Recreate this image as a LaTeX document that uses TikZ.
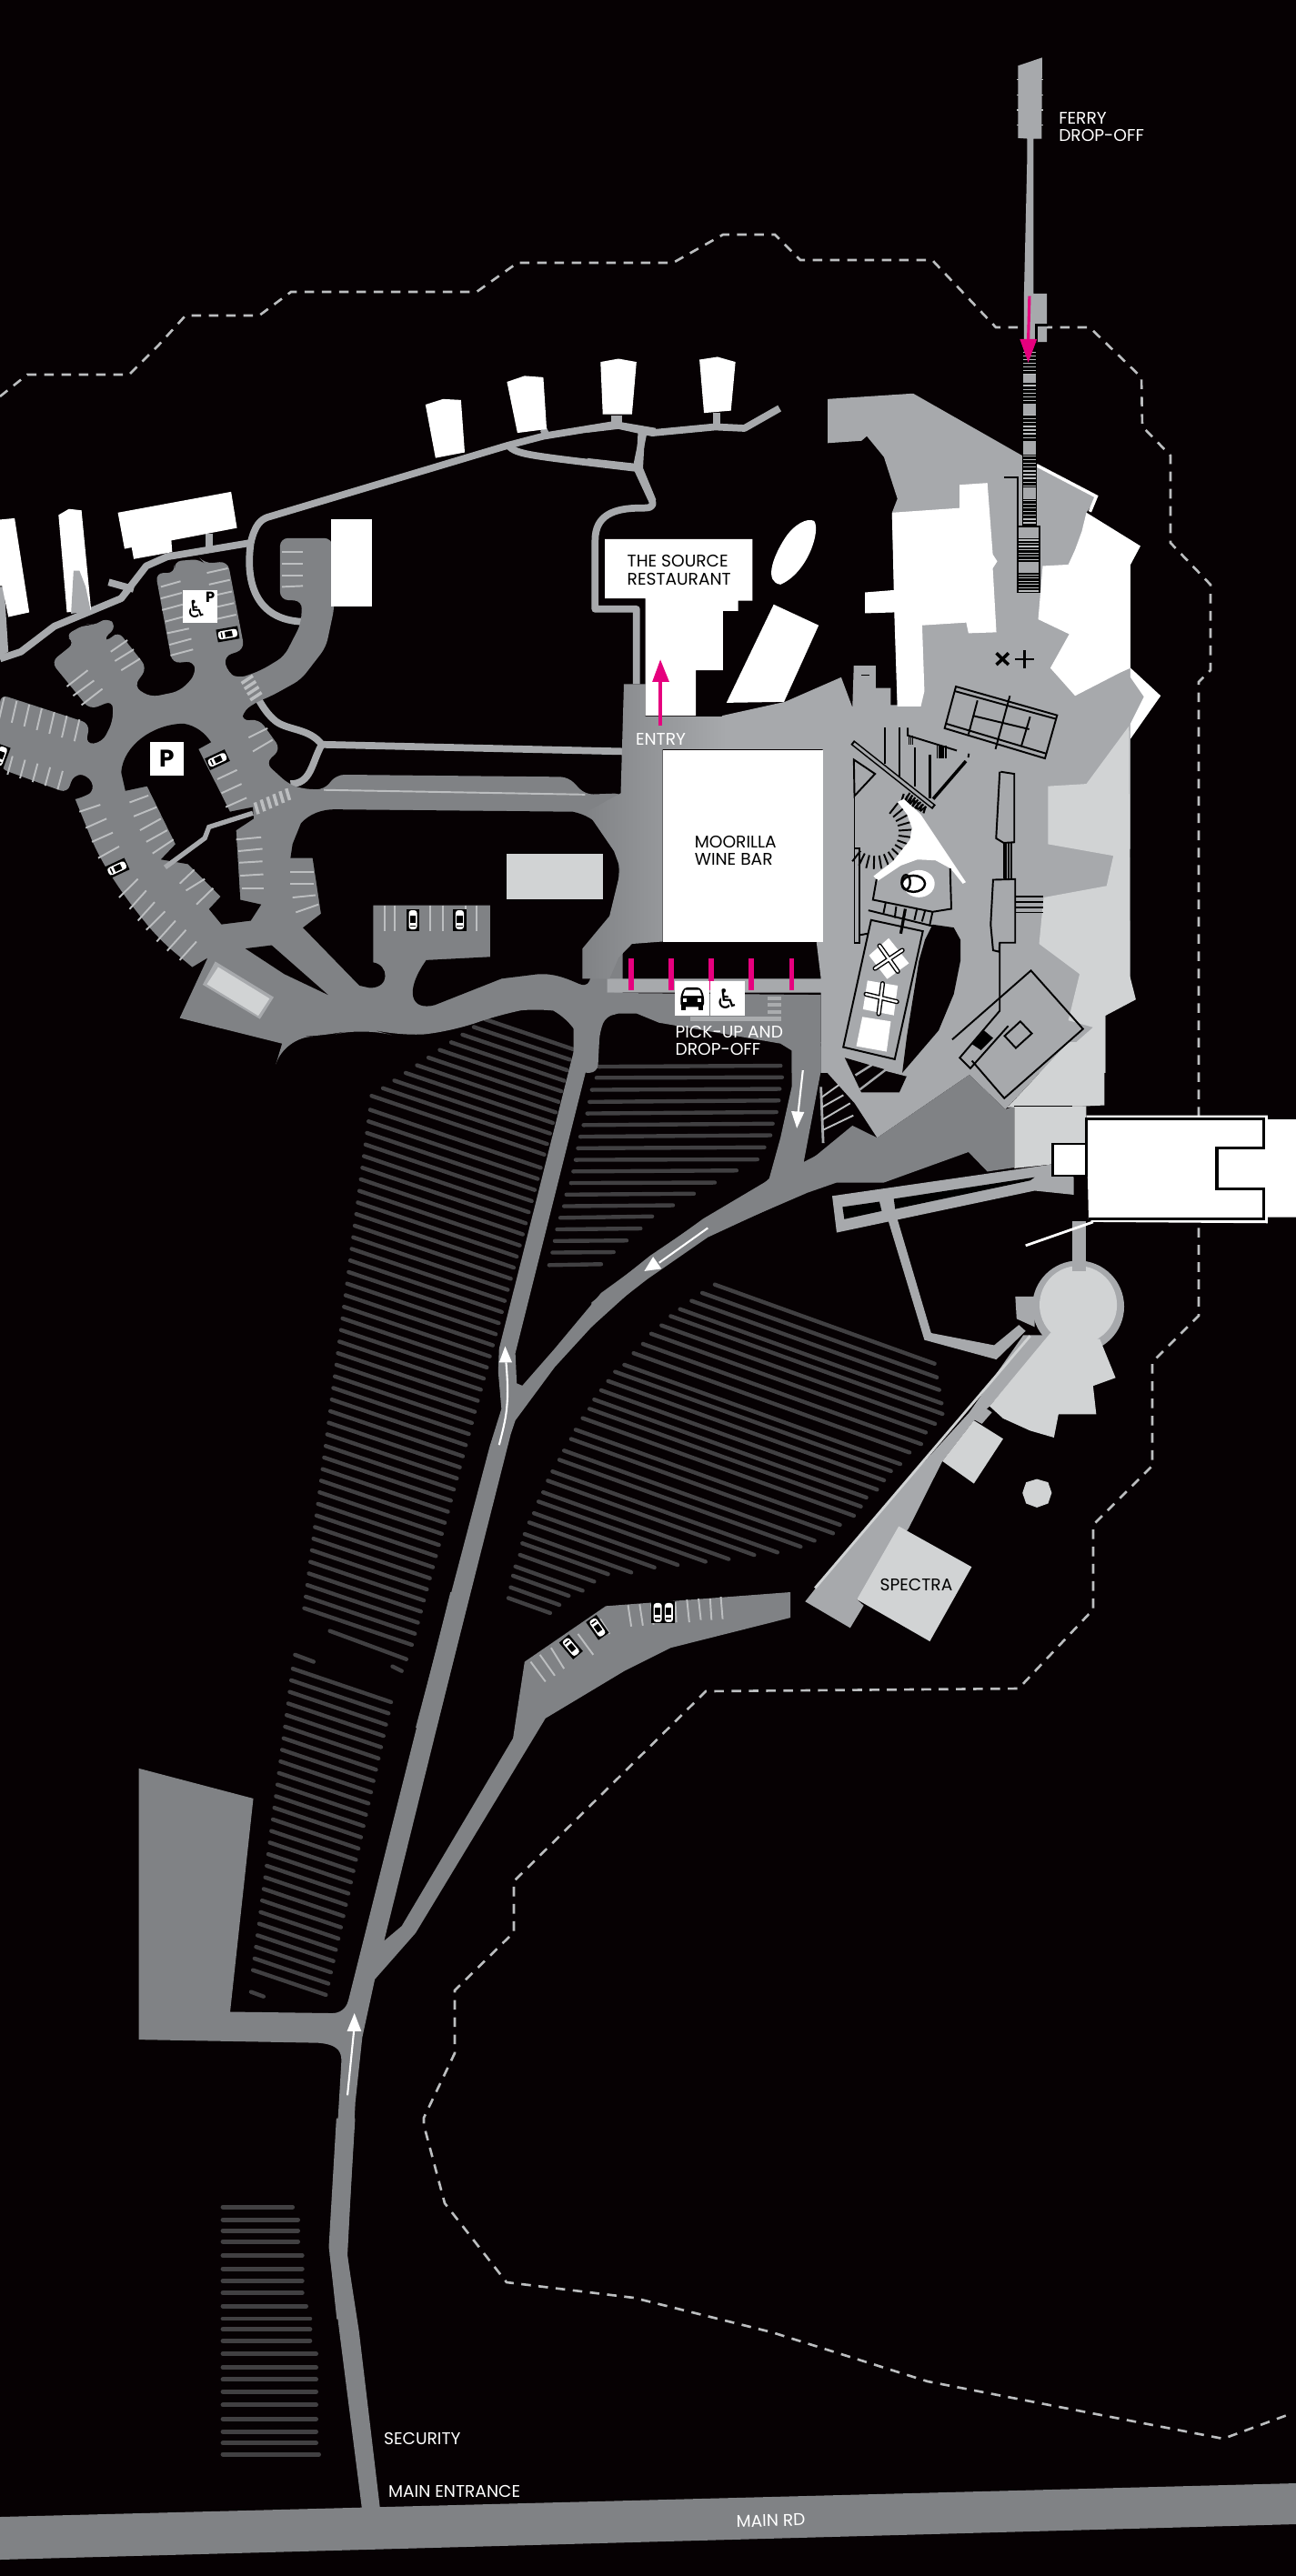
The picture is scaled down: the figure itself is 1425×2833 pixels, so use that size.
\documentclass[tikz,border=0pt]{standalone}
\usepackage{fontspec}
\setmainfont{Poppins}
\newfontfamily\symf{DejaVu Sans}
\definecolor{bgk}{HTML}{060103}
\definecolor{road}{HTML}{808285}
\definecolor{site}{HTML}{A7A9AC}
\definecolor{pale}{HTML}{D1D3D4}
\definecolor{vine}{HTML}{414042}
\definecolor{mag}{HTML}{E6007E}
\definecolor{dsh}{HTML}{BCBEC0}
\tikzset{
 zone1/.style={x=0.004591cm,y=-0.005102cm,shift={(0cm,-3.8cm)}},
 zone2/.style={x=0.004943cm,y=-0.005102cm,shift={(6.5cm,-3.8cm)}},
 zone3/.style={x=0.004943cm,y=-0.004464cm,shift={(6.5cm,-11.5cm)}},
 zone4/.style={x=0.003333cm,y=-0.003333cm,shift={(9.5cm,-0.4cm)}},
 zone5/.style={x=0.005102cm,y=-0.005102cm,shift={(1cm,-11cm)}},
 zone6/.style={x=0.005102cm,y=-0.005102cm,shift={(1cm,-17.5cm)}},
 zone7/.style={x=0.003333cm,y=-0.003333cm,shift={(2cm,-23.3cm)}},
 zone8/.style={x=0.003333cm,y=-0.003333cm,shift={(9.25cm,-8cm)}},
 vineline/.style={vine,line width=1.25pt,line cap=round},
 pathline/.style={site,line width=2.2pt,line join=round},
 stripe/.style={dsh,line width=0.55pt},
 ink/.style={black,line width=0.55pt},
 lbl/.style={inner sep=0pt,anchor=west,font=\fontsize{5.3}{6}\selectfont},
 wlbl/.style={lbl,text=white},
 klbl/.style={lbl,text=black},
 post/.style={mag,line width=1.5pt},
 warrow/.style={white,line width=0.6pt},
}
\newcommand{\carat}[3]{\begin{scope}[shift={(#1,#2)},rotate=#3]
 \fill[black] (-0.12cm,-0.07cm) rectangle (0.12cm,0.07cm);
 \fill[white,rounded corners=0.03cm] (-0.105cm,-0.045cm) rectangle (0.105cm,0.045cm);
 \fill[black] (-0.03cm,-0.03cm) rectangle (0.05cm,0.03cm);
 \fill[black] (-0.075cm,-0.03cm) rectangle (-0.06cm,0.03cm);
\end{scope}}
\begin{document}
\begin{tikzpicture}[x=0.01cm,y=-0.01cm]
\useasboundingbox (0,0) rectangle (1425,2833);
\fill[bgk] (0,0) rectangle (1425,2833);
% dashed boundary
\draw[dsh,line width=0.75pt,dash pattern=on 3pt off 2.4pt]
 (0,436)--(30,412)--(142,412)--(174,380)--(204,347)--(285,347)--(320,321)--(524,321)--(569,289)--(740,289)--(795,258)--(852,258)--(880,286)--(1025,286)--(1095,360)--(1198,360)--(1255,415)--(1256,469)--(1287,501)--(1287,597)--(1331,643)--(1331,737)--(1318,750)--(1318,1447)--(1267,1498)--(1267,1612)--(1202,1677)--(1202,1770)--(1120,1857)--(776,1860)--(565,2069)--(565,2125)--(500,2189)--(500,2258)--(466,2329)--(466,2337)--(489,2423)--(557,2510)--(697,2527)--(849,2565)--(1020,2619)--(1345,2682)--(1418,2655);
% vines
\begin{scope}[zone5]
 \foreach \i in {0,...,10}{
  \pgfmathsetmacro\xl{850-24.5*\i}\pgfmathsetmacro\yl{40+16.5*\i}
  \pgfmathsetmacro\xr{(1067-.27*\yl+.0918*\xl)/1.0918}\pgfmathsetmacro\yr{\yl+.34*(\xr-\xl)}
  \draw[vineline] (\xl,\yl)--(\xr,\yr);}
 \foreach \i in {1,...,44}{
  \pgfmathsetmacro\xl{605-3.3*\i}\pgfmathsetmacro\yl{210+25*\i}
  \pgfmathsetmacro\xr{(1067-.27*\yl+.0918*\xl)/1.0918}\pgfmathsetmacro\yr{\yl+.34*(\xr-\xl)}
  \draw[vineline] (\xl,\yl)--(\xr,\yr);}
 \draw[vineline] (515,1359)--(680,1420);
 \foreach \a/\b/\c/\d in {1095/142/1487/140,1090/166/1490/165,1080/192/1485/190,1075/218/1483/215,1070/243/1478/240,1062/268/1470/265,1055/293/1465/290,1050/318/1452/316,1045/343/1437/342,1040/368/1392/366,1035/393/1345/392,1025/418/1300/416,1020/443/1255/441,1012/468/1210/465,1005/493/1185/491,1000/518/1155/517,995/543/1127/542,988/570/1100/568}
  \draw[vineline] (\a,\b)--(\c,\d);
 \foreach \xl/\yl/\xr in {1345/612/1819,1318/630/1824,1295/647/1829,1270/665/1834,1250/680/1836,1230/700/1820,1208/718/1800,1190/740/1790,1170/760/1765,1150/785/1745,1130/800/1725,1115/820/1710,1100/840/1695,1085/860/1672,1075/880/1660,1060/900/1645,1045/925/1615,1035/945/1600,1020/970/1560,1010/990/1530,995/1015/1480,985/1035/1430,975/1060/1375,965/1080/1325,955/1105/1265,945/1125/1215,935/1150/1165,930/1170/1115,925/1195/1085,915/1220/1060,910/1240/1030,905/1265/1010,900/1288/990}
  \draw[vineline] (\xl,\yl)--(\xr,{\yl+0.36*(\xr-\xl)});
\end{scope}
\begin{scope}[zone6]
 \draw[vineline] (440,135)--(480,150); \draw[vineline] (650,160)--(670,170);
 \foreach \k in {0,...,26}{
  \pgfmathsetmacro\xl{435-3.3*\k}\pgfmathsetmacro\yl{165+25*\k}
  \pgfmathsetmacro\xr{647-5.4*\k}\pgfmathsetmacro\yr{\yl+.34*(\xr-\xl)}
  \draw[vineline] (\xl,\yl)--(\xr,\yr);}
 \draw[vineline] (345,862)--(372,872);
\end{scope}
\begin{scope}[zone7]
 \foreach \y/\r in {288/365,330/383,366/383,402/383,448/397,492/397,532/397,572/397,615/410,657/423,692/423,730/423,773/443,818/443,858/443,898/443,942/443,988/443,1030/443,1068/443,1105/452}
  \draw[vine,line width=1.4pt,line cap=round] (135,\y)--(\r,\y);
\end{scope}
% ferry
\begin{scope}[zone4]
 \fill[site] (507,97)--(587,70)--(585,338)--(558,338)--(558,850)--(603,850)--(603,1010)--(527,1010)--(527,850)--(537,420)--(537,338)--(507,336)--cycle;
 \foreach \y in {143,193,243,293}{\draw[dsh,line width=0.4pt] (503,\y)--(510,\y);\draw[dsh,line width=0.4pt] (583,\y)--(591,\y);}
 \draw[black,line width=0.8pt] (567,1010)--(567,955)--(604,955);
\end{scope}
% thin paths
\begin{scope}[zone1]
 \draw[pathline] (0,675)--(50,660)--(130,605)--(210,575)--(290,545)--(350,475)--(400,455)--(600,425);
 \draw[pathline] (600,425) .. controls (610,385) and (625,375) .. (640,370)--(1215,215)--(1300,195)--(1470,170)--(1568,185);
 \draw[pathline] (600,425) .. controls (585,520) and (620,590) .. (720,595);
 \draw[pathline] (1215,215) .. controls (1240,235) and (1250,235) .. (1530,265);
 \draw[pathline] (1535,185)--(1530,265)--(1562,335);
 \draw[pathline] (260,510)--(320,525);
 \draw[pathline] (500,405)--(500,435);
 \draw[pathline] (1470,150)--(1470,172);
 \draw[pathline] (1300,180)--(1310,197);
 \fill[site] (0,520)--(10,520)--(20,660)--(0,670)--cycle;
 \draw[pathline] (770,860)--(1490,875);
 \draw[pathline] (770,860) .. controls (745,900) and (745,945) .. (695,945);
 \draw[pathline] (770,860) .. controls (740,825) and (690,830) .. (660,810) .. controls (640,795) and (630,780) .. (620,765);
\end{scope}
\begin{scope}[zone2]
 \draw[pathline] (-10,180)--(60,172)--(135,188)--(275,175)--(340,178)--(418,135);
 \draw[pathline] (-10,250)--(100,262);
 \draw[pathline] (115,190)--(100,262)--(135,335) .. controls (140,350) and (125,350) .. (110,350) .. controls (50,350) and (8,365) .. (8,420)--(8,568)--(100,568)--(100,730);
 \draw[pathline] (60,150)--(60,175);
 \draw[pathline] (278,145)--(278,177);
 \fill[white] (20,35)--(60,28)--(100,35)--(90,148)--(25,148)--cycle;
 \fill[white] (240,30)--(280,24)--(320,35)--(310,140)--(250,145)--cycle;
\end{scope}
% car park and road blob
\begin{scope}[zone1]
 \fill[road,rounded corners=2.5pt] (0,752)--(215,815)--(205,860)--(245,855)--(270,810)--(270,765)--(215,785)--(122,682)--(180,640)--(155,625)--(205,600)--(225,605)--(255,585)--(280,605)--(245,635)--(255,640)--(282,615)--(352,695)--(320,735)--(360,758)--(430,745)--(468,710)--(465,680)--(412,685)--(372,490)--(420,490)--(415,465)--(480,460)--(490,470)--(545,465)--(585,655)--(535,670)--(545,705)--(570,718)--(625,700)--(680,670)--(720,600)--(723,550)--(670,548)--(670,415)--(795,415)--(800,565)--(780,650)--(720,720)--(650,755)--(610,770)--(580,790)--(578,810)--(620,805)--(672,870)--(635,900)--(690,945)--(720,955)--(775,958)--(805,925)--(1360,930)--(1400,968)--(1490,965)--(1490,1440)--(1450,1445)--(1435,1480)--(1430,1568)--(1385,1568) [rounded corners=9pt]--(1385,1490)--(1365,1440)--(1300,1425)--(1200,1440)--(1080,1480)--(950,1490)--(870,1470)--(780,1490)--(680,1490)[rounded corners=0pt]--(675,1505)--(430,1450)--(497,1320)--(460,1340)[rounded corners=6pt]--(380,1280)--(300,1190)--(235,1100)[rounded corners=0pt]--(180,978)[rounded corners=2.5pt]--(205,972)--(228,958)--(210,925)--(175,925)--(162,965)--(0,912)--cycle;
 % islands
 \fill[bgk] (700,1075)--(720,1030) .. controls (740,1010) and (770,1000) .. (800,1000)--(1370,1005) .. controls (1400,1010) and (1425,1025) .. (1440,1040) .. controls (1470,1070) and (1485,1100) .. (1480,1150)--(1460,1250)--(1410,1370) .. controls (1405,1380) and (1395,1380) .. (1385,1376) .. controls (1350,1362) and (1320,1352) .. (1280,1356)--(1200,1365)--(1040,1422) .. controls (985,1435) and (965,1395) .. (1020,1325)--(1173,1318)--(1173,1207)--(893,1207)--(893,1330) .. controls (930,1335) and (935,1385) .. (885,1385)--(860,1380)--(725,1255)--(768,1225)--(748,1105)--(695,1105)--cycle;
 \fill[pale] (1212,1095) rectangle (1442,1193);
 \fill[bgk] (290,920) .. controls (295,860) and (370,815) .. (440,815) .. controls (470,820) and (490,835) .. (505,855)--(475,870)--(550,1005)--(605,995)--(607,1020)--(565,1045)--(575,1195)--(625,1205)--(600,1240)--(530,1248)--(500,1215)--(528,1188)--(450,1118)--(385,1108)--(420,1075)--(352,950)--(300,960)--cycle;
 \fill[bgk] (587,1300)--(650,1293)--(785,1400)--(680,1355)--cycle;
 \fill[site] (515,1328)--(655,1405)--(622,1452)--(485,1378)--cycle;
 \fill[pale] (522,1340)--(645,1408)--(618,1445)--(495,1377)--cycle;
 \draw[site,line width=1.5pt] (605,1008)--(500,1038)--(490,1062)--(395,1125);
 \draw[stripe] (775,958)--(1400,968);
 \foreach \a/\b/\c/\d in {385/520/432/508,385/545/435/533,388/570/437/558,395/595/445/583,400/620/452/610,405/645/458/632,408/668/462/655,495/490/545/480,500/515/550/505,505/540/555/530,510/565/560/555,515/590/565/580,265/660/305/635,275/680/320/655,290/700/335/675,160/735/210/700,175/755/225/722,195/775/245/740,190/1005/240/990,205/1040/255/1020,220/1070/270/1050,235/1105/285/1080,285/1190/330/1150,310/1215/350/1175,330/1240/370/1200,350/1260/395/1220,375/1285/420/1240,400/1305/445/1260,430/1325/470/1285,310/985/355/970,320/1015/375/995,335/1045/385/1020,350/1070/400/1045,365/1095/415/1065,520/935/567/915,530/965/578/945,540/995/590/975,595/845/640/825,605/875/652/850,565/1065/625/1060,570/1090/628/1085,572/1115/628/1112,575/1143/630/1140,578/1170/630/1170,695/1135/750/1135,695/1160/750/1160,700/1190/755/1185,708/1222/762/1205,430/1160/465/1130,445/1175/490/1150,470/1205/510/1170,675/445/725/445,675/470/725/470,675/495/725/495,675/520/725/518}
  \draw[stripe] (\a,\b)--(\c,\d);
 \foreach \i in {0,...,6}{\draw[stripe] ({10+30*\i},{758+8*\i})--({-2+30*\i},{805+8*\i});}
 \foreach \i in {0,...,4}{\draw[stripe] ({30+30*\i},{885+8*\i})--({18+30*\i},{925+8*\i});}
 \foreach \i in {0,...,3}{\draw[stripe,line width=1pt] ({578+7*\i},{728+12*\i})--({605+7*\i},{712+12*\i});}
 \foreach \i in {0,...,5}{\draw[stripe,line width=1pt] ({610+15*\i},{985-6*\i})--({618+15*\i},{1010-6*\i});}
 \foreach \x in {920,945,1030,1060,1115,1140}{\draw[stripe] (\x,1207)--(\x,1262);}
 \carat{545}{622}{10}\carat{520}{893}{25}\carat{280}{1127}{25}\carat{2}{885}{70}\carat{988}{1238}{90}\carat{1100}{1238}{90}
 % white buildings of the west side
 \fill[white] (0,375)--(35,372)--(70,575)--(20,585)--(5,518)--(0,518)--cycle;
 \fill[white] (140,365)--(165,352)--(195,355)--(218,570)--(160,575)--cycle;
 \fill[site] (176,485)--(190,485)--(205,520)--(217,572)--(170,578)--cycle;
 \fill[white] (282,360)--(553,315)--(567,393)--(410,420)--(412,445)--(320,460)--(315,435)--(298,438)--cycle;
 \fill[white] (1018,127)--(1060,115)--(1103,117)--(1112,230)--(1042,242)--cycle;
 \fill[white] (1213,78)--(1255,65)--(1300,68)--(1308,180)--(1238,188)--cycle;
 \fill[white] (793,375) rectangle (890,563);
\end{scope}
% lower roads
\begin{scope}[zone5]
 \fill[road] (1048,60)--(1048,80)--(880,750)--(878,800)--(885,880)--(860,960)--(700,1568)--(745,1568)--(905,935)--(915,905)--(1000,790)--(1110,670)--(1200,600)--(1330,510)--(1600,385)--(1600,315)--(1455,390)--(1320,470)--(1100,630)--(1000,750)--(930,830)--(918,825)--(915,760)--(1090,60)--cycle;
\end{scope}
\begin{scope}[zone6]
 \fill[road] (775,0)--(555,880) .. controls (550,900) and (535,908) .. (520,908)--(300,905)--(350,445)--(103,380)--(103,965)--(490,972) .. controls (525,975) and (540,985) .. (540,1010)--(515,1430)--(530,1568)--(570,1568)--(553,1430)--(570,1100)--(585,960)--(612,835)--(700,735)--(980,272)--(1150,170)--(1250,120)--(1508,55)--(1508,0)--(1110,30)--(935,150)--(910,315)--(670,720)--(632,752)--(818,0)--cycle;
 \foreach \a/\b/\c/\d in {1158/28/1165/74,1183/26/1190/72,1208/26/1213/70,1260/22/1262/65,1285/16/1290/65,1310/14/1315/60,1335/14/1338/60,1358/10/1362/58,1098/58/1118/90,1050/90/1083/135,992/120/1020/165,968/135/1000/180,948/150/980/193}
  \draw[stripe] (\a,\b)--(\c,\d);
 \carat{1222}{44}{90}\carat{1246}{44}{90}\carat{1092}{76}{-55}\carat{1035}{118}{-50}
\end{scope}
\begin{scope}[zone7]
 \fill[road] (510,-5)--(572,-5)--(545,440)--(585,700)--(655,1290)--(595,1290)--(520,700)--(485,420)--cycle;
\end{scope}
\fill[road] (0,2768)--(1425,2731)--(1425,2776)--(0,2815)--cycle;
% site
\begin{scope}[zone2]
 \fill[site] (525,115)--(715,103)--(990,255)--(1125,325)--(1100,360)--(1220,432)--(1198,472)--(1198,695)--(1265,755)--(1198,845)--(1197,1400)--(1142,1445)--(1142,1568)--(510,1568)--(510,1395)--(35,1395)--(35,1365)--(510,1365)--(500,1285)--(514,1285)--(514,870)--(290,870)--(290,798)--(430,768)--(555,715)--(580,780)--(583,690)--(632,690)--(632,738)--(665,738)--(665,775)--(680,775)--(668,360)--(680,330)--(650,240)--(612,195)--(600,205)--(525,210)--cycle;
 \shade[left color=road,right color=site] (72,730)--(120,730)--(120,800)--(300,800)--(300,870)--(158,870)--(158,1285)--(90,1290)--(60,1320)--(40,1365)--(-20,1365)--(-20,1300)--(40,1230)--(65,1130)--(50,1090)--(-10,1005)--(65,965)--cycle;
 \fill[road] (-40,1395)--(510,1400)--(510,1568)--(445,1568)--(445,1520)--(420,1505)--(150,1460)--(100,1440)--(40,1440)--(20,1460)--(0,1560)--(-40,1568)--cycle;
 \fill[pale] (1195,820)--(1100,945)--(1015,950)--(1015,1075)--(1160,1100)--(1145,1165)--(1005,1190)--(995,1290)--(1085,1355)--(1060,1455)--(1115,1470)--(1000,1568)--(1142,1568)--(1142,1445)--(1210,1410)--(1197,1360)--cycle;
 % white buildings
 \fill[white] (30,417)--(358,417)--(358,550)--(326,550)--(326,572)--(292,572)--(292,700)--(232,700)--(232,798)--(120,798)--(120,545)--(30,545)--cycle;
 \fill[white] (495,378) .. controls (510,400) and (480,490) .. (420,515) .. controls (385,510) and (400,460) .. (430,415) .. controls (450,385) and (480,370) .. (495,378)--cycle;
 \fill[white] (405,558)--(505,603)--(428,768)--(300,770)--cycle;
 \fill[white] (668,360)--(818,350)--(818,300)--(880,296)--(892,450)--(902,465)--(892,480)--(900,618)--(838,620)--(833,597)--(735,603)--(740,745)--(732,778)--(680,778)--(673,575)--(608,577)--(608,532)--(672,527)--cycle;
 \fill[white] (1100,360)--(1220,432)--(1198,472)--(1198,695)--(1175,705)--(1075,755)--(1020,695)--(1062,622)--(993,590)--(1003,475)--(1060,472)--(1075,440)--(1090,400)--cycle;
 \draw[white,line width=1pt] (990,258)--(1122,325)--(1108,358);
 \fill[white] (1198,695)--(1265,755)--(1198,848)--(1198,815)--(1228,757)--(1198,715)--cycle;
 \fill[white] (158,872) rectangle (514,1286);
 % ladder
 \fill[black] (958,10) rectangle (990,390);
 \foreach \y in {14,22,...,385}{\draw[dsh,line width=0.35pt] (960,\y)--(988,\y);}
 \foreach \y/\z in {62/80,125/148,205/235,305/330}{\fill[site] (960,\y) rectangle (988,\z);}
 \fill[black] (946,388) rectangle (998,533);
 \fill[site] (950,392) rectangle (994,415);
 \fill[site] (950,467) rectangle (994,490);
 \foreach \y in {419,426,...,463,494,501,...,530}{\draw[dsh,line width=0.35pt] (950,\y)--(994,\y);}
 \draw[ink] (918,283)--(948,283)--(948,390);
 \draw[ink,line width=0.3pt] (600,710)--(618,710);
 % tennis court
 \draw[ink] (810,735)--(1035,797)--(1008,890)--(785,825)--cycle;
 \draw[ink] (808,745)--(1033,805);\draw[ink] (788,815)--(1012,880);
 \draw[ink] (858,765)--(838,838);\draw[ink] (975,800)--(955,865);
 \draw[ink] (848,798)--(973,827);\draw[ink] (930,755)--(898,870);
 % x +
 \draw[black,line width=1pt] (900,663)--(927,688);\draw[black,line width=1pt] (927,663)--(900,688);
 \draw[black,line width=0.8pt] (942,676)--(983,676);\draw[black,line width=0.8pt] (963,657)--(963,695);
 % posts
 \foreach \x in {88,177,266,355,445}{\draw[post] (\x,1322)--(\x,1390);}
 \fill[dsh!70!road] (220,1447) rectangle (422,1457);
 \foreach \y in {1403,1418,1433}{\fill[dsh!70!road] (392,\y) rectangle (422,\y+8);}
 \fill[white] (186,1370) rectangle (262,1445);
 \fill[white] (265,1370) rectangle (340,1445);
 % taxi icon
 \fill[black,rounded corners=1pt] (198,1402)--(206,1384)--(242,1384)--(250,1402)--(250,1426)--(198,1426)--cycle;
 \fill[white] (208,1389)--(240,1389)--(245,1402)--(203,1402)--cycle;
 \fill[white] (204,1408) rectangle (212,1415);
 \fill[white] (236,1408) rectangle (244,1415);
 \fill[black] (200,1424) rectangle (210,1433);
 \fill[black] (238,1424) rectangle (248,1433);
 % entry arrow
 \fill[mag] (135,725)--(153,677)--(173,725)--cycle;
 \draw[post,line width=0.9pt] (153,820)--(153,720);
\end{scope}
% east and south parts
\begin{scope}[zone3]
 \fill[site] (510,-10)--(1060,-10)--(920,155)--(840,70)--(635,225)--(585,140)--(520,60)--cycle;
 \fill[road] (445,0)--(510,0)--(510,60)--(470,295)--(580,195)--(635,225)--(840,70)--(920,155)--(940,147)--(940,298)--(880,308)--(838,260)--(650,335)--(545,335)--(480,360)--(260,465)--(130,560)--(0,690)--(0,630)--(130,515)--(250,425)--(360,360)--(395,325)--(420,225)--(445,100)--cycle;
 \fill[pale] (1060,-10)--(925,150)--(1100,147)--(1140,145)--(1140,-10)--cycle;
 \fill[pale] (940,147)--(1100,147)--(1100,240)--(1025,240)--(1025,290)--(940,300)--cycle;
 \draw[black,line width=0.4pt] (940,147)--(1068,147);
 % black triangle stripes
 \draw[site,line width=0.8pt] (510,100)--(515,238);
 \foreach \a/\b/\c/\d in {512/125/550/95,512/150/560/120,514/180/575/140,516/205/582/170}{\draw[stripe] (\a,\b)--(\c,\d);}
 % walkway
 \fill[site] (535,368)--(1025,290)--(1072,322)--(1072,365)--(985,355)--(545,458)--cycle;
 \fill[black] (558,395)--(640,382)--(645,405)--(562,425)--cycle;
 \fill[black] (672,375)--(985,322)--(975,330)--(675,400)--cycle;
 \fill[site] (660,430)--(680,425)--(755,705)--(895,735)--(950,685)--(965,700)--(900,770)--(740,722)--cycle;
 \fill[site] (1068,430) rectangle (1100,550);
 % white block
 \fill[white] (1100,170)--(1503,170)--(1503,180)--(1570,180)--(1570,420)--(1503,420)--(1503,435)--(1115,432)--(1105,425)--cycle;
 \draw[white,line width=0.8pt] (965,490)--(1115,432);
 \fill[white] (1025,240) rectangle (1100,318);
 \draw[black,line width=0.8pt] (1025,240) rectangle (1100,318);
 \draw[black,line width=0.9pt] (1100,318)--(1100,178)--(1495,178)--(1495,250)--(1390,250)--(1390,350)--(1495,350)--(1495,425)--(1105,425);
 % rotunda
 \fill[site] (942,615)--(985,615)--(985,690)--(945,670)--cycle;
 \fill[site] (1082,640) ellipse [x radius=102,y radius=113];
 \fill[pale] (1082,636) ellipse [x radius=86,y radius=96];
 \fill[site] (1068,500) rectangle (1100,552);
 \fill[site] (960,710)--(1020,710)--(885,885)--(850,920)--(780,1020)--(705,1185)--(590,1360)--(605,1375)--(575,1430)--(475,1365)--(500,1330)--(700,1070)--(840,900)--cycle;
 \fill[pale] (1020,705)--(1130,720)--(1165,815)--(1115,835)--(1122,905)--(1038,905)--(1028,962)--(975,945)--(915,915)--(885,885)--cycle;
 \draw[pale,line width=0.8pt] (497,1332)--(975,712);
 \fill[pale] (850,920)--(915,965)--(850,1075)--(780,1020)--cycle;
 \fill[site] (845,915)--(870,885)--(890,900)--(868,928)--cycle;
 \fill[pale] (683,1180)--(845,1280)--(752,1463)--(590,1360)--cycle;
 \fill[pale] (990,1064)--(1015,1072)--(1023,1098)--(1015,1124)--(990,1134)--(966,1124)--(958,1098)--(966,1072)--cycle;
\end{scope}
% detailed group
\begin{scope}[zone8]
 \fill[bgk] (300,650)--(370,660)--(392,700)--(392,770)--(370,880)--(320,1000)--(200,1140)--(215,1020)--(255,770)--(275,700)--cycle;
 \fill[bgk] (10,1090)--(215,1150)--(190,1205)--(65,1205)--cycle;
 \draw[site,line width=0.7pt] (45,1148)--(145,1085);\draw[site,line width=0.7pt] (60,1195)--(145,1130)--(215,1148);
 \draw[black,line width=1.7pt] (35,48)--(305,262);
 \draw[site,line width=0.8pt] (40,52)--(300,258);
 \draw[ink] (143,0)--(143,118);\draw[ink] (192,0)--(192,160);\draw[ink] (243,65)--(243,195);\draw[ink,line width=0.9pt] (292,88)--(292,232);
 \draw[ink] (218,0)--(218,25)--(380,75);
 \foreach \x in {222,228,234}{\draw[ink,line width=0.3pt] (\x,25)--(\x,55);}
 \foreach \x in {315,322,329,336,343}{\draw[ink,line width=0.5pt] (\x,58)--(\x,100);}
 \draw[ink,line width=1pt] (302,235)--(410,110);
 \draw[ink] (420,85)--(418,98);
 \draw[ink] (40,105)--(110,152)--(42,225)--cycle;
 \draw[ink] (42,225)--(42,395);
 \draw[ink] (42,398) rectangle (58,710);
 \draw[ink] (58,685)--(85,680);
 \foreach \a in {-52,-40,...,135}{\draw[ink,line width=0.55pt] ({110+78*cos(\a)},{345+78*sin(\a)})--({110+122*cos(\a)},{345+122*sin(\a)});}
 \foreach \i in {0,...,6}{\draw[ink,line width=0.6pt] ({205+12*\i},{218+7*\i})--({198+12*\i},{240+7*\i});
   \draw[ink,line width=0.6pt] ({225+9*\i},{215+7.5*\i})--({205+9*\i},{245+5*\i});}
 \fill[white] (185,245)--(205,235)--(260,285)--(320,375)--(410,510)--(400,515)--(360,465)--(310,438)--(250,435)--(195,455)--(120,505)--(105,490)--(170,440)--(225,370)--(232,330)--(215,285)--cycle;
 \draw[ink] (115,500)--(103,568)--(300,608)--(362,598)--(358,465);
 \fill[white] (255,515) ellipse [x radius=52,y radius=45];
 \draw[black,line width=0.7pt] (237,515) ellipse [x radius=38,y radius=27];
 \draw[black,line width=0.7pt] (212,510) ellipse [x radius=14,y radius=24];
 \draw[ink] (88,603)--(300,655);
 \draw[ink] (145,578)--(138,612);\draw[ink] (180,590)--(175,628);\draw[ink,line width=0.9pt] (210,598)--(195,680);\draw[ink] (248,600)--(240,635);\draw[ink] (275,605)--(265,640);\draw[ink] (300,608)--(290,655);
 \draw[ink] (97,635)--(268,672)--(175,1095)--(5,1055)--cycle;
 \fill[white] (155,695)--(222,778)--(150,830)--(90,752)--cycle;
 \fill[white] (85,835)--(185,852)--(172,950)--(70,930)--cycle;
 \fill[white] (68,955)--(162,970)--(148,1070)--(48,1052)--cycle;
 \draw[black,line width=1.5pt,line cap=round] (125,720)--(185,805);\draw[black,line width=1.5pt,line cap=round] (110,795)--(200,735);
 \draw[white,line width=0.7pt,line cap=round] (125,720)--(185,805);\draw[white,line width=0.7pt,line cap=round] (110,795)--(200,735);
 \draw[black,line width=1.5pt,line cap=round] (135,845)--(122,945);\draw[black,line width=1.5pt,line cap=round] (80,880)--(182,905);
 \draw[white,line width=0.7pt,line cap=round] (135,845)--(122,945);\draw[white,line width=0.7pt,line cap=round] (80,880)--(182,905);
 \draw[ink] (525,145)--(570,152)--(570,378)--(535,380)--(510,365)--(522,145);
 \foreach \x in {535,543,551,559}{\draw[ink] (\x,380)--(\x,498);}
 \draw[ink] (500,502)--(573,500)--(573,710)--(522,710)--(520,740)--(500,735)--(492,650)--cycle;
 \foreach \y in {558,575,593,610}{\draw[ink] (575,\y)--(665,\y);}
 \draw[ink] (522,710)--(522,935)--(390,1090)--(425,1125)--(550,985);
 \draw[ink] (365,1030)--(625,802)--(797,995)--(537,1224)--(430,1100);
 \fill[black] (430,1045)--(470,1000)--(500,1025)--(460,1065)--cycle;
 \draw[ink] (590,970)--(628,1010)--(575,1058)--(538,1018)--cycle;
\end{scope}
% white arrows
\begin{scope}[zone5]
 \draw[warrow] (880,958) .. controls (895,900) and (903,870) .. (895,780);
 \fill[white] (880,780)--(908,780)--(893,745)--cycle;
 \draw[warrow] (1535,150)--(1525,240);
 \fill[white] (1510,238)--(1538,240)--(1522,275)--cycle;
 \draw[warrow] (1330,490)--(1225,565);
 \fill[white] (1212,552)--(1230,578)--(1193,583)--cycle;
\end{scope}
\begin{scope}[zone6]
 \draw[warrow] (553,1085)--(567,945);
 \fill[white] (552,947)--(583,947)--(568,908)--cycle;
\end{scope}
% magenta ferry arrow
\begin{scope}[zone4]
 \draw[mag,line width=0.9pt] (545,858)--(541,1005);
 \fill[mag] (513,1000)--(570,1000)--(541,1078)--cycle;
\end{scope}
% signs and labels
\begin{scope}[zone1]
 \fill[white] (360,855) rectangle (440,928);
 \fill[white] (438,527) rectangle (520,598);
 \node[inner sep=0pt] (psign) at (399,890) {\fontsize{7.5}{8}\selectfont\bfseries P};
 \node[inner sep=0pt] (dispark) at (503,543) {\fontsize{4.6}{5}\selectfont\bfseries P};
 \node[inner sep=0pt] (diswheel) at (470,568) {\fontsize{7.5}{8}\selectfont\symf ♿};
\end{scope}
\begin{scope}[zone2]
 \node[inner sep=0pt] (wheel) at (302,1408) {\fontsize{8.5}{9}\selectfont\symf ♿};
 \node[klbl] (source) at (78,464) {THE SOURCE};
 \node[klbl] (rest) at (78,503) {RESTAURANT};
 \node[wlbl] (entry) at (97,848) {ENTRY};
 \node[klbl] (moor) at (228,1070) {MOORILLA};
 \node[klbl] (wine) at (228,1108) {WINE BAR};
 \node[wlbl] (pick) at (185,1480) {PICK-UP AND};
 \node[wlbl] (drop) at (185,1518) {DROP-OFF};
\end{scope}
\begin{scope}[zone4]
 \node[wlbl] (ferry) at (640,270) {FERRY};
 \node[wlbl] (fdrop) at (640,328) {DROP-OFF};
\end{scope}
\begin{scope}[zone3]
 \node[klbl] (spectra) at (640,1325) {SPECTRA};
\end{scope}
\begin{scope}[zone7]
 \node[wlbl] (security) at (665,1052) {SECURITY};
 \node[wlbl] (mainent) at (680,1228) {MAIN ENTRANCE};
\end{scope}
\node[wlbl,rotate=1.5] (mainrd) at (809,2773) {MAIN RD};
\end{tikzpicture}
\end{document}
